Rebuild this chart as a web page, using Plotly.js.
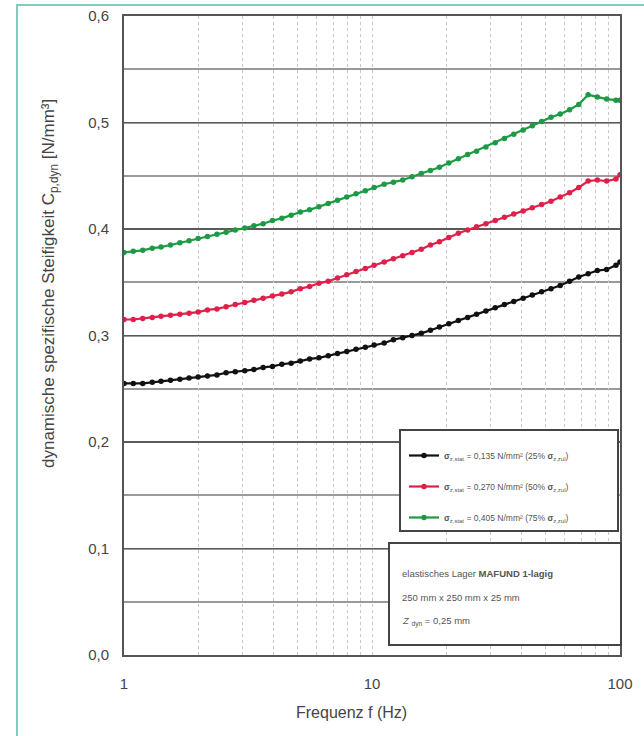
<!DOCTYPE html>
<html>
<head>
<meta charset="utf-8">
<script src="https://cdn.plot.ly/plotly-3.0.1.min.js"></script>
<style>
  html, body { margin: 0; padding: 0; background: #fff; }
  #wrap { position: relative; width: 644px; height: 736px; overflow: hidden; }
  #chart { width: 644px; height: 736px; }
  #frame { position: absolute; left: 16px; top: 4px; width: 700px; height: 800px;
           border-top: 2px solid #7ccfbf; border-left: 2px solid #7ccfbf; pointer-events: none; }
</style>
</head>
<body>
<div id="wrap">
  <div id="chart"></div>
  <div id="frame"></div>
</div>
<script>
// Frequency (Hz)
const freq = [1.00, 1.09, 1.19, 1.30, 1.41, 1.54, 1.68, 1.83, 1.99, 2.17, 2.37, 2.58, 2.81, 3.07, 3.34, 3.64, 3.97, 4.33, 4.72, 5.14, 5.60, 6.11, 6.66, 7.26, 7.91, 8.62, 9.40, 10.2, 11.2, 12.2, 13.3, 14.5, 15.8, 17.2, 18.7, 20.4, 22.3, 24.3, 26.4, 28.8, 31.4, 34.2, 37.3, 40.7, 44.3, 48.3, 52.7, 57.4, 62.6, 68.2, 74.4, 81.0, 88.3, 96.3, 100];

// dynamic specific stiffness (N/mm³)
const stiff25 = [0.255, 0.255, 0.255, 0.256, 0.257, 0.258, 0.259, 0.260, 0.261, 0.262, 0.263, 0.265, 0.266, 0.267, 0.268, 0.270, 0.271, 0.273, 0.274, 0.276, 0.278, 0.279, 0.281, 0.283, 0.285, 0.287, 0.289, 0.291, 0.293, 0.296, 0.298, 0.300, 0.302, 0.305, 0.308, 0.311, 0.314, 0.317, 0.320, 0.323, 0.326, 0.329, 0.332, 0.335, 0.338, 0.341, 0.344, 0.347, 0.351, 0.355, 0.358, 0.361, 0.362, 0.366, 0.369];
const stiff50 = [0.315, 0.315, 0.316, 0.317, 0.318, 0.319, 0.320, 0.321, 0.322, 0.324, 0.325, 0.327, 0.329, 0.331, 0.333, 0.335, 0.337, 0.339, 0.341, 0.344, 0.346, 0.349, 0.351, 0.354, 0.357, 0.360, 0.363, 0.366, 0.369, 0.372, 0.375, 0.378, 0.381, 0.385, 0.388, 0.392, 0.396, 0.399, 0.402, 0.405, 0.408, 0.411, 0.414, 0.417, 0.420, 0.423, 0.426, 0.430, 0.434, 0.439, 0.445, 0.446, 0.445, 0.447, 0.451];
const stiff75 = [0.378, 0.379, 0.380, 0.382, 0.383, 0.385, 0.387, 0.389, 0.391, 0.393, 0.395, 0.397, 0.399, 0.401, 0.403, 0.405, 0.408, 0.410, 0.413, 0.416, 0.418, 0.421, 0.424, 0.427, 0.430, 0.433, 0.436, 0.439, 0.442, 0.444, 0.446, 0.449, 0.452, 0.455, 0.458, 0.462, 0.466, 0.470, 0.473, 0.477, 0.481, 0.485, 0.489, 0.493, 0.497, 0.501, 0.505, 0.508, 0.512, 0.517, 0.526, 0.524, 0.522, 0.521, 0.521];

const seriesNames = [
  '<b>σ</b><sub>z,stat</sub> = 0,135 N/mm² (25% <b>σ</b><sub>z,zul</sub>)',
  '<b>σ</b><sub>z,stat</sub> = 0,270 N/mm² (50% <b>σ</b><sub>z,zul</sub>)',
  '<b>σ</b><sub>z,stat</sub> = 0,405 N/mm² (75% <b>σ</b><sub>z,zul</sub>)'
];
const seriesColors = ['#111111', '#e0204a', '#1e9a45'];
const seriesData = [stiff25, stiff50, stiff75];

const xTickVals = [1, 2, 3, 4, 5, 6, 7, 8, 9, 10, 20, 30, 40, 50, 60, 70, 80, 90, 100];
const xTickText = ['1', '', '', '', '', '', '', '', '', '10', '', '', '', '', '', '', '', '', '100'];
const yTickVals = [0, 0.1, 0.2, 0.3, 0.4, 0.5, 0.6];
const yTickText = ['0,0', '0,1', '0,2', '0,3', '0,4', '0,5', '0,6'];

const infoLines = [
  'elastisches Lager <b>MAFUND 1-lagig</b>',
  '250 mm x 250 mm x 25 mm',
  '<i>Z</i> <sub>dyn</sub> = 0,25 mm'
];

const traces = seriesData.map((d, i) => ({
  x: freq, y: d, type: 'scatter', mode: 'lines+markers',
  name: seriesNames[i], legendgroup: 'g' + i,
  line: { color: seriesColors[i], width: 2.2 },
  marker: { color: seriesColors[i], size: 5.5, symbol: 'circle' }
}));

const L = 124, R = 620, T = 16, B = 655;
const px = v => (v - L) / (R - L);
const py = v => (B - v) / (B - T);

const font = 'Liberation Sans, Arial, sans-serif';

const layout = {
  width: 644, height: 736,
  margin: { l: L, r: 644 - R, t: T, b: 736 - B, pad: 0 },
  paper_bgcolor: '#fff', plot_bgcolor: '#fff',
  font: { family: font, color: '#444' },
  showlegend: true,
  legend: {
    x: px(404), y: py(441), xanchor: 'left', yanchor: 'top',
    bgcolor: 'rgba(0,0,0,0)', borderwidth: 0,
    font: { size: 8.5, color: '#555', family: font },
    traceorder: 'grouped', tracegroupgap: 12
  },
  xaxis: {
    type: 'log', range: [0, 2],
    tickvals: xTickVals, ticktext: xTickText,
    ticks: 'outside', ticklen: 14, tickcolor: 'rgba(0,0,0,0)',
    tickfont: { size: 15, color: '#444' },
    showgrid: true, gridcolor: '#c8c8c8', gridwidth: 1, griddash: 'dot',
    showline: true, linecolor: '#555', linewidth: 2, mirror: true,
    zeroline: false
  },
  yaxis: {
    range: [0, 0.6],
    tickvals: yTickVals, ticktext: yTickText,
    ticks: 'outside', ticklen: 10, tickcolor: 'rgba(0,0,0,0)',
    tickfont: { size: 15, color: '#444' },
    showgrid: true, gridcolor: '#5a5a5a', gridwidth: 1.5,
    minor: { dtick: 0.05, showgrid: true, gridcolor: '#9a9a9a', gridwidth: 2, ticks: '' },
    showline: true, linecolor: '#555', linewidth: 2, mirror: true,
    zeroline: false
  },
  shapes: [
    { type: 'rect', xref: 'paper', yref: 'paper', layer: 'above',
      x0: px(400), x1: px(618), y0: py(531), y1: py(430),
      fillcolor: '#fff', line: { color: '#444', width: 2 } },
    { type: 'rect', xref: 'paper', yref: 'paper', layer: 'above',
      x0: px(389), x1: px(621), y0: py(645), y1: py(543),
      fillcolor: '#fff', line: { color: '#444', width: 2 } }
  ],
  annotations: [
    { text: 'Frequenz f (Hz)', xref: 'paper', yref: 'paper', x: px(351), y: py(712),
      xanchor: 'center', yanchor: 'middle', showarrow: false,
      font: { size: 16, color: '#444', family: font } },
    { text: 'dynamische spezifische Steifigkeit C<sub>p,dyn</sub> [N/mm³]', xref: 'paper', yref: 'paper',
      x: px(50), y: py(284), xanchor: 'center', yanchor: 'middle', textangle: -90, showarrow: false,
      font: { size: 17, color: '#444', family: font } }
  ].concat(infoLines.map((t, i) => ({
      text: t, xref: 'paper', yref: 'paper', x: px(400), y: py(573 + i * 24),
      xanchor: 'left', yanchor: 'middle', showarrow: false,
      font: { size: 9.5, color: '#555', family: font }
  })))
};

Plotly.newPlot('chart', traces, layout, { displayModeBar: false, staticPlot: true });
</script>
</body>
</html>
